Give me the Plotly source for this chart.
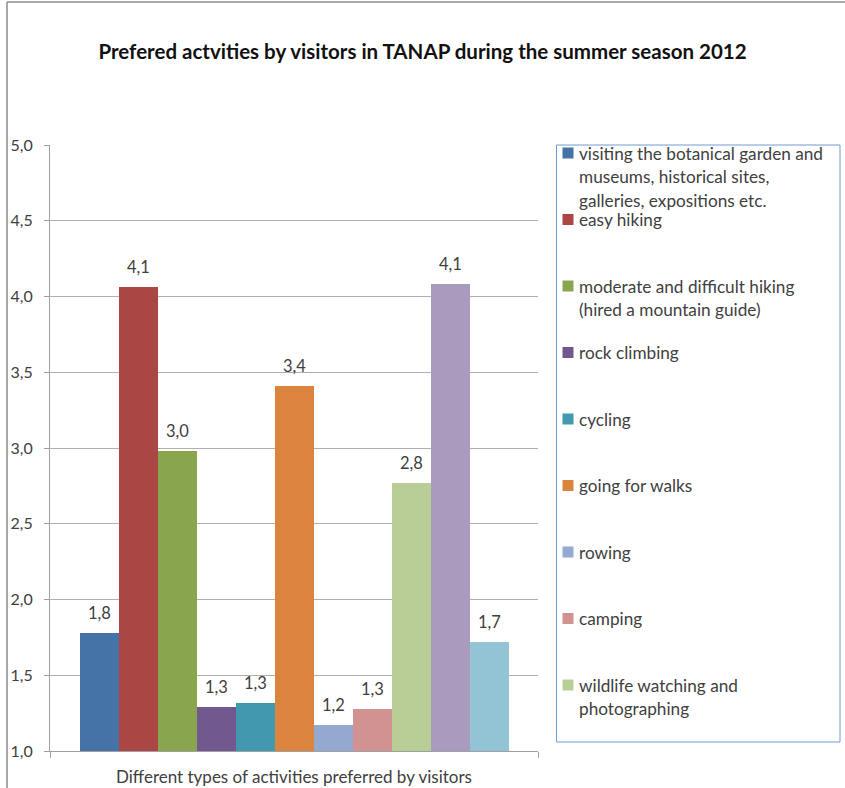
import plotly.graph_objects as go

# Activity categories and their average preference scores
activities = [
    "visiting the botanical garden and<br>museums, historical sites,<br>galleries, expositions etc.",
    "easy hiking",
    "moderate and difficult hiking<br>(hired a mountain guide)",
    "rock climbing",
    "cycling",
    "going for walks",
    "rowing",
    "camping",
    "wildlife watching and<br>photographing",
    "other activity (a)",
    "other activity (b)",
]
scores = [1.78, 4.06, 2.98, 1.29, 1.32, 3.41, 1.17, 1.28, 2.77, 4.08, 1.72]
colors = ["#4572A7", "#AA4643", "#89A54E", "#71588F", "#4198AF", "#DB843D",
          "#93A9CF", "#D19392", "#B9CD96", "#A99BBD", "#93C4D6"]
legend_count = 9  # entries that fit inside the legend box
y_ticks = [1.0, 1.5, 2.0, 2.5, 3.0, 3.5, 4.0, 4.5, 5.0]

W, H = 845, 788
L, R, T, B = 50, 538, 145, 751  # plot area in pixels

def px(x):
    return (x - L) / (R - L)

def py(y):
    return (B - y) / (B - T)

FONT = "Lato"
TXT = "#404040"

# bars sit side by side inside one category band; leave a margin on both sides
x_lo, x_hi = -1.27, len(scores) - 1 + 1.24

fig = go.Figure()
for i, (name, val, col) in enumerate(zip(activities, scores, colors)):
    fig.add_trace(go.Bar(
        x=[i], y=[val], width=1, name=name.replace("<br>", " "),
        marker=dict(color=col, line=dict(width=0)),
        showlegend=False,
    ))

shapes = []
annotations = []

# value labels above the bars
for i, val in enumerate(scores):
    annotations.append(dict(
        x=i, y=val, xref="x", yref="y", text=f"{val:.1f}".replace(".", ","),
        showarrow=False, yanchor="bottom", yshift=8,
        font=dict(family=FONT, size=16.5, color=TXT)))

# outer chart frame (left and top edges)
shapes.append(dict(type="line", xref="paper", yref="paper",
                   x0=px(7), x1=px(7), y0=py(2), y1=py(H + 5),
                   line=dict(color="#8c8c8c", width=1.5)))
shapes.append(dict(type="line", xref="paper", yref="paper",
                   x0=px(7), x1=px(W + 5), y0=py(2), y1=py(2),
                   line=dict(color="#8c8c8c", width=1.5)))

# legend box
shapes.append(dict(type="rect", xref="paper", yref="paper",
                   x0=px(556.5), x1=px(840), y0=py(145), y1=py(742),
                   line=dict(color="#6f9bd1", width=1), fillcolor="rgba(0,0,0,0)"))

slot0, slot_step, line_step = 153, 66.5, 23.5
for i in range(legend_count):
    y_first = slot0 + i * slot_step
    shapes.append(dict(type="rect", xref="paper", yref="paper",
                       x0=px(562.5), x1=px(573.5),
                       y0=py(y_first - 5.5), y1=py(y_first + 5.5),
                       line=dict(width=0), fillcolor=colors[i]))
    for j, line in enumerate(activities[i].split("<br>")):
        annotations.append(dict(
            xref="paper", yref="paper", x=px(577), y=py(y_first + j * line_step),
            xanchor="left", yanchor="middle", showarrow=False, text=line,
            font=dict(family=FONT, size=17.2, color=TXT)))

fig.update_layout(
    width=W, height=H,
    margin=dict(l=L, r=W - R, t=T, b=H - B, pad=0, autoexpand=False),
    paper_bgcolor="white", plot_bgcolor="white",
    separators=",.",
    bargap=0,
    title=dict(text="<b>Prefered actvities by visitors in TANAP during the summer season 2012</b>",
               x=0.5, xanchor="center", y=1 - 52 / H, yanchor="middle",
               font=dict(family=FONT, size=20.5, color="#111111")),
    xaxis=dict(range=[x_lo, x_hi], tickvals=[x_lo, x_hi], ticks="outside",
               ticklen=6, tickcolor="#a0a0a0", showticklabels=False,
               showgrid=False, zeroline=False, showline=True,
               linecolor="#a0a0a0", linewidth=1, automargin=False,
               title=dict(text="Different types of activities preferred by visitors",
                          standoff=14, font=dict(family=FONT, size=17, color=TXT))),
    yaxis=dict(range=[1, 5], tickvals=y_ticks, tickformat=".1f",
               ticks="outside", ticklen=5, tickcolor="#a0a0a0",
               ticklabelstandoff=8, automargin=False,
               tickfont=dict(family=FONT, size=16, color=TXT),
               showgrid=True, gridcolor="#b0b0b0", gridwidth=1,
               zeroline=False, showline=True, linecolor="#a0a0a0", linewidth=1),
    shapes=shapes, annotations=annotations,
    showlegend=False,
)

fig.write_html("out.html")
